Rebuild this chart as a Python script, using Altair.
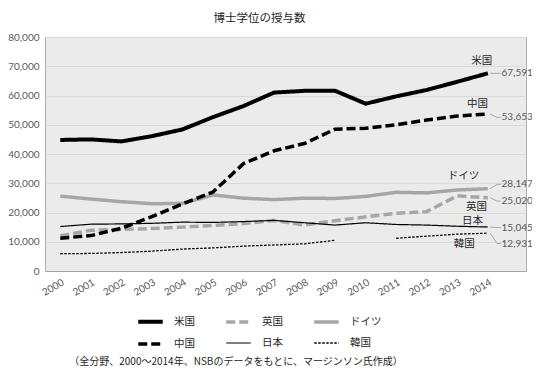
import altair as alt
import pandas as pd

years = list(range(2000, 2015))
countries = ["米国", "英国", "ドイツ", "中国", "日本", "韓国"]

us = [44800, 45000, 44300, 46100, 48400, 52600, 56400, 61000, 61600, 61600, 57200, 59700, 61900, 64700, 67591]
uk = [12000, 13900, 14200, 14500, 15000, 15600, 16200, 17300, 15700, 17200, 18500, 19700, 20300, 25700, 25020]
germany = [25600, 24600, 23700, 23000, 23100, 26000, 24900, 24400, 24900, 24800, 25500, 26900, 26700, 27700, 28147]
china = [11200, 12100, 14600, 18600, 22900, 27000, 36700, 41100, 43600, 48500, 48800, 50000, 51600, 53000, 53653]
japan = [15200, 16000, 16100, 16300, 16700, 16600, 16900, 17300, 16500, 15700, 16500, 15900, 15700, 15300, 15045]
korea = [5900, 6000, 6300, 6800, 7500, 7900, 8500, 8900, 9300, 10500, None, 11200, 11900, 12600, 12931]

series = {"米国": us, "英国": uk, "ドイツ": germany, "中国": china, "日本": japan, "韓国": korea}
colors = ["#000000", "#a6a6a6", "#a6a6a6", "#000000", "#000000", "#000000"]
dashes = [[1, 0], [9, 4], [1, 0], [9, 4], [1, 0], [2.5, 1.5]]
widths = [4, 3.5, 3.5, 3.5, 1.2, 1.3]

# end annotations
end_values = [67591, 25020, 28147, 53653, 15045, 12931]
end_texts = ["67,591", "25,020", "28,147", "53,653", "15,045", "12,931"]
label_y = [67591, 23900, 29600, 52500, 14850, 9400]
name_x = [2013.8, 2013.63, 2013.2, 2013.66, 2013.5, 2013.23]
name_y = [71900, 21900, 32500, 57100, 17000, 9150]

FONT_JP = "Noto Sans CJK JP"
FONT_NUM = "Lato"

rows = []
for c in countries:
    for y, v in zip(years, series[c]):
        rows.append({"year": y, "country": c, "value": v})
df = pd.DataFrame(rows)

lead_rows = []
for c, v, ly in zip(countries, end_values, label_y):
    lead_rows.append({"country": c, "x": 2014.08, "y": v, "o": 0})
    lead_rows.append({"country": c, "x": 2014.3, "y": ly, "o": 1})
    lead_rows.append({"country": c, "x": 2014.42, "y": ly, "o": 2})
lead = pd.DataFrame(lead_rows)

ann = pd.DataFrame({"country": countries, "ly": label_y, "txt": end_texts,
                    "nx": name_x, "ny": name_y})

xscale = alt.Scale(domain=[1999.5, 2015.25], nice=False, zero=False)
yscale = alt.Scale(domain=[0, 80000], nice=False)

x_axis = alt.Axis(values=years, format="d", labelAngle=-30, grid=False,
                  ticks=False, domain=True, domainColor="#a6a6a6",
                  labelFont=FONT_NUM, labelFontSize=10, labelColor="#595959",
                  labelPadding=6, title=None)
y_axis = alt.Axis(values=list(range(0, 80001, 10000)), format=",d",
                  ticks=False, domain=False, grid=True, gridColor="#d9d9d9",
                  labelFont=FONT_NUM, labelFontSize=10, labelColor="#595959",
                  labelPadding=6, title=None)


def X(f):
    return alt.X(f, scale=xscale, axis=x_axis)


def Y(f):
    return alt.Y(f, scale=yscale, axis=y_axis)


lines = alt.Chart(df).mark_line(strokeCap="butt", strokeJoin="round").encode(
    x=X("year:Q"),
    y=Y("value:Q"),
    color=alt.Color("country:N", scale=alt.Scale(domain=countries, range=colors),
                    legend=alt.Legend(title=None)),
    strokeDash=alt.StrokeDash("country:N", scale=alt.Scale(domain=countries, range=dashes),
                              legend=alt.Legend(title=None)),
    strokeWidth=alt.StrokeWidth("country:N",
                                scale=alt.Scale(type="ordinal", domain=countries, range=widths),
                                legend=alt.Legend(title=None)),
    order=alt.Order("year:Q"),
)

leaders = alt.Chart(lead).mark_line(color="#a6a6a6", strokeWidth=1).encode(
    x=X("x:Q"),
    y=Y("y:Q"),
    detail="country:N",
    order="o:Q",
)

values = alt.Chart(ann).mark_text(align="left", baseline="middle", font=FONT_NUM,
                                  fontSize=10, color="#595959").encode(
    x=X("xx:Q"),
    y=Y("ly:Q"),
    text="txt:N",
).transform_calculate(xx="2014.45")

names = alt.Chart(ann).mark_text(align="center", baseline="middle", font=FONT_JP,
                                 fontSize=10.5, color="#262626").encode(
    x=X("nx:Q"),
    y=Y("ny:Q"),
    text="country:N",
)

caption = alt.Chart(pd.DataFrame({"t": ["（全分野、2000～2014年、NSBのデータをもとに、マージンソン氏作成）"]})).mark_text(
    align="center", baseline="middle", font=FONT_JP, fontSize=10, color="#262626"
).encode(x=alt.value(191), y=alt.value(325), text="t:N")

chart = alt.layer(lines, leaders, values, names, caption).properties(
    width=481, height=234,
    autosize=alt.AutoSizeParams(type="none"),
    padding={"left": 37, "top": 29, "right": 6, "bottom": 99},
    title=alt.Title("博士学位の授与数", font=FONT_JP, fontSize=11.5, fontWeight="normal",
                    color="#262626", anchor="middle", frame="group", dx=-26, offset=8),
).configure_view(
    fill="#ebebeb", stroke="#b0b0b0", strokeWidth=1
).configure_legend(
    orient="none", legendX=91, legendY=270, columns=3, direction="horizontal",
    symbolType="stroke", symbolSize=600, labelFont=FONT_JP, labelFontSize=10.5,
    labelColor="#262626", labelOffset=9, columnPadding=24, rowPadding=-2, padding=0,
    symbolOpacity=1,
)

chart.save("out.html", embed_options={"renderer": "svg", "actions": False})
